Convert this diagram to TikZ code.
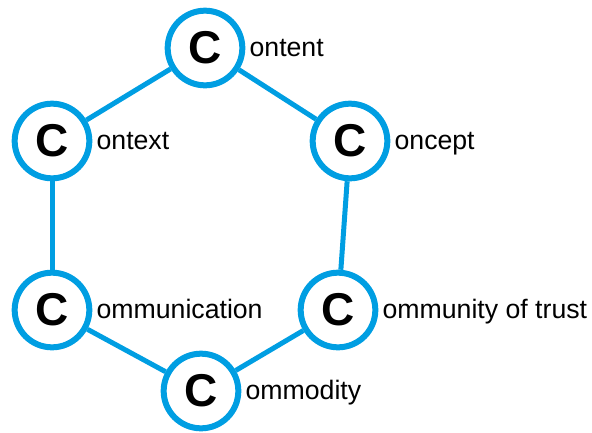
\documentclass[tikz,border=0pt]{standalone}
\usepackage{fontspec}
\setmainfont{Liberation Sans}
\usepackage{tikz}

\definecolor{ringblue}{RGB}{0,158,226}

\tikzset{
  cnode/.style={circle, draw=ringblue, fill=white, line width=4.5pt,
    minimum size=56pt, inner sep=0pt,
    font=\fontsize{34.5}{36}\selectfont\bfseries},
  clabel/.style={anchor=mid west, inner sep=0pt,
    font=\fontsize{20}{24}\selectfont},
  clink/.style={draw=ringblue, line width=3.75pt}
}

\begin{document}
\begin{tikzpicture}[x=0.75pt, y=-0.75pt]
    \useasboundingbox (0,0) rectangle (592,432);

    % The six circles
    \node[cnode] (content) at (205,48) {C};
    \node[cnode] (context) at (52,141) {C};
    \node[cnode] (concept) at (350,141) {C};
    \node[cnode] (communication) at (52,310) {C};
    \node[cnode] (community) at (338,310) {C};
    \node[cnode] (commodity) at (201,391) {C};

    % Links round the ring
    \draw[clink] (content) -- (context);
    \draw[clink] (content) -- (concept);
    \draw[clink] (context) -- (communication);
    \draw[clink] (concept) -- (community);
    \draw[clink] (communication) -- (commodity);
    \draw[clink] (commodity) -- (community);

    % The rest of each word
    \node[clabel] (contentlbl) at ([xshift=3pt,yshift=-4pt]content.east) {ontent};
    \node[clabel] (contextlbl) at ([xshift=3pt,yshift=-4pt]context.east) {ontext};
    \node[clabel] (conceptlbl) at ([xshift=3pt,yshift=-4pt]concept.east) {oncept};
    \node[clabel] (communicationlbl) at ([xshift=3pt,yshift=-4pt]communication.east) {ommunication};
    \node[clabel] (communitylbl) at ([xshift=3pt,yshift=-4pt]community.east) {ommunity of trust};
    \node[clabel] (commoditylbl) at ([xshift=3pt,yshift=-4pt]commodity.east) {ommodity};

\end{tikzpicture}
\end{document}
